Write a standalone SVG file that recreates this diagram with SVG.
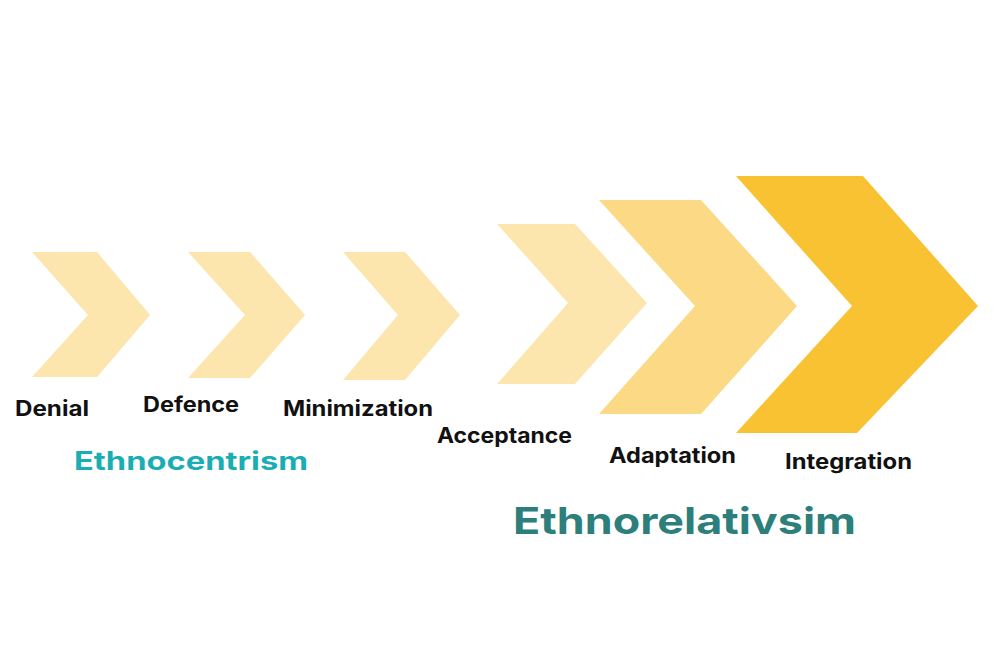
<svg xmlns="http://www.w3.org/2000/svg" width="1000" height="668" viewBox="0 0 1000 668">
<style>
.lbl{font-family:Inter,"Liberation Sans",Arial,sans-serif;font-weight:700;font-size:21px;fill:#111111}
.c1{fill:#FCE6AE}
.c2{fill:#FBD985}
.c3{fill:#F9C232}
.grp1{font-family:Inter,"Liberation Sans",Arial,sans-serif;font-weight:700;font-size:25px;fill:#1AAEB4}
.grp2{font-family:Inter,"Liberation Sans",Arial,sans-serif;font-weight:700;font-size:37px;fill:#2D7F7B}
</style>
<rect width="1000" height="668" fill="#ffffff"/>
<g id="denial">
<polygon class="c1" points="32,252 97,252 150,315 97,377 32,377 88,315"/>
<text class="lbl" x="15" y="416" textLength="74" lengthAdjust="spacingAndGlyphs">Denial</text>
</g>
<g id="defence">
<polygon class="c1" points="188,252 250,252 305,315 250,378 188,378 245,315"/>
<text class="lbl" x="143" y="412" textLength="96" lengthAdjust="spacingAndGlyphs">Defence</text>
</g>
<g id="minimization">
<polygon class="c1" points="343,252 405,252 460,315 405,380 343,380 398,315"/>
<text class="lbl" x="283" y="416" textLength="150" lengthAdjust="spacingAndGlyphs">Minimization</text>
</g>
<g id="acceptance">
<polygon class="c1" points="497,224 575,224 647,303 575,384 497,384 568,303"/>
<text class="lbl" x="437" y="443" textLength="135" lengthAdjust="spacingAndGlyphs">Acceptance</text>
</g>
<g id="adaptation">
<polygon class="c2" points="599,200 701,200 797,306 701,414 599,414 695,306"/>
<text class="lbl" x="609" y="463" textLength="127" lengthAdjust="spacingAndGlyphs">Adaptation</text>
</g>
<g id="integration">
<polygon class="c3" points="736,176 863,176 978,306 857,433 736,433 852,306"/>
<text class="lbl" x="785" y="469" textLength="127" lengthAdjust="spacingAndGlyphs">Integration</text>
</g>
<g id="connectors"></g>
<g id="ethnocentrism">
<text class="grp1" x="74" y="470" textLength="234" lengthAdjust="spacingAndGlyphs">Ethnocentrism</text>
</g>
<g id="ethnorelativsim">
<text class="grp2" x="513" y="534" textLength="343" lengthAdjust="spacingAndGlyphs">Ethnorelativsim</text>
</g>
</svg>
